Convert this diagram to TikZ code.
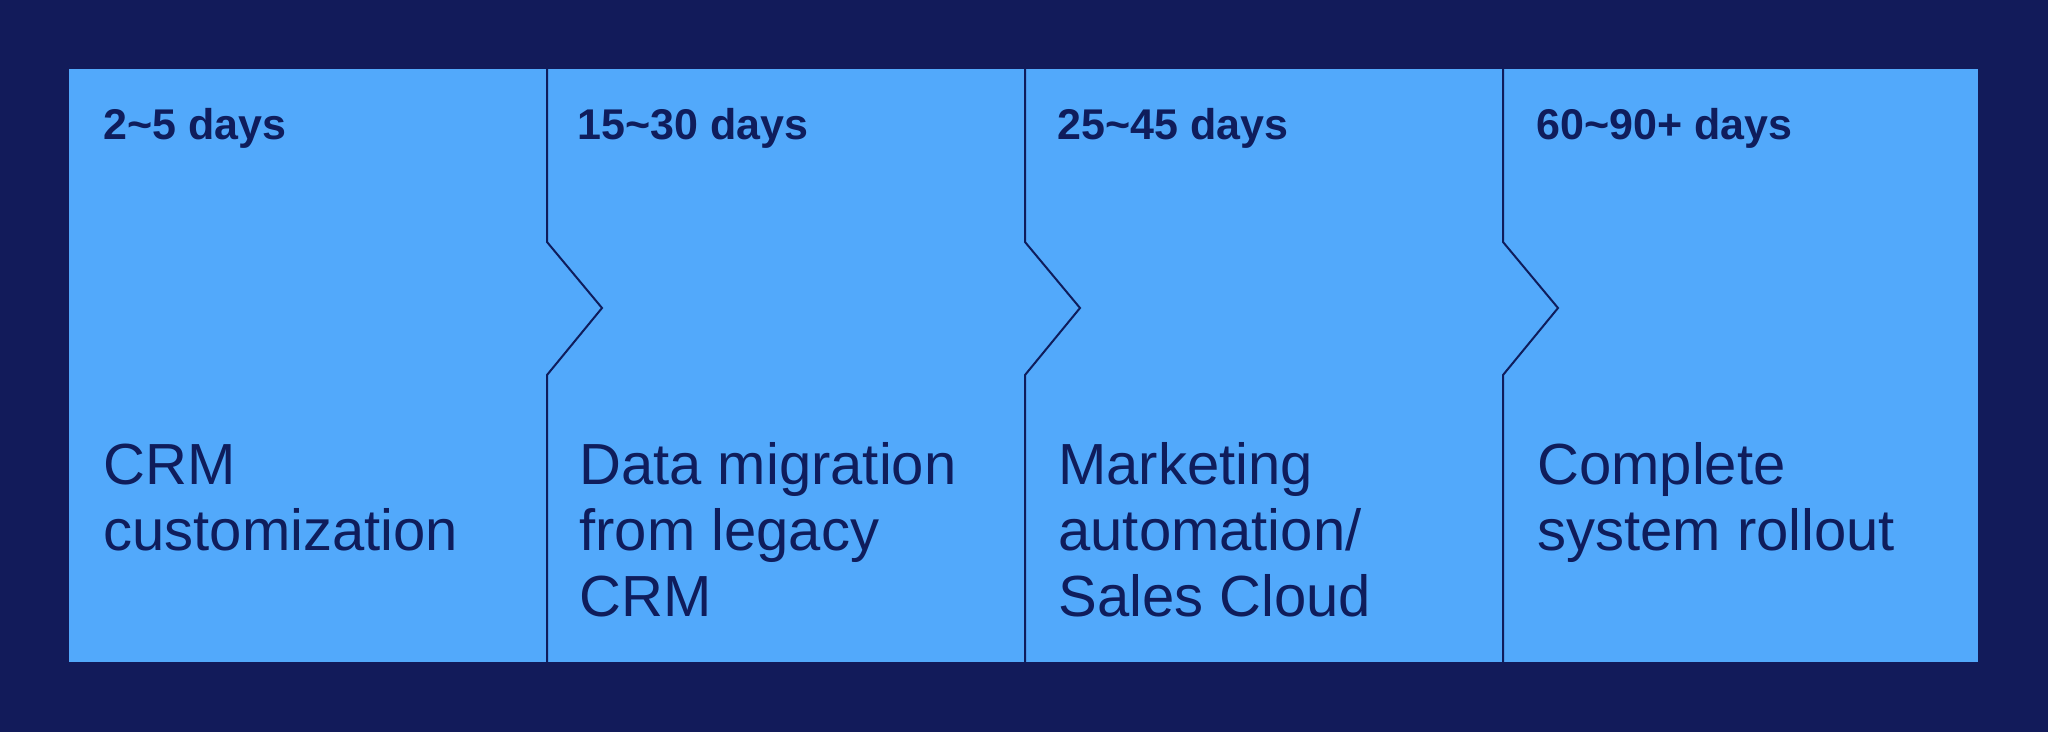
\documentclass[tikz,border=0pt]{standalone}
\usepackage{fontspec}
\setmainfont{Liberation Sans}
\usepackage{tikz}

\definecolor{navybg}{HTML}{121B5A}
\definecolor{panelblue}{HTML}{52A9FB}
\definecolor{inkblue}{HTML}{0F1D5C}

\tikzset{
    days/.style={anchor=base west, inner sep=0pt, text=inkblue,
        font=\fontsize{21.5}{26}\selectfont\bfseries},
    stage/.style={anchor=base west, inner sep=0pt, text=inkblue, align=left,
        font=\fontsize{29}{33}\selectfont},
    divider/.style={draw=inkblue, line width=1pt, line join=miter}
}

\begin{document}
\begin{tikzpicture}[x=0.5pt, y=-0.5pt]

    \fill[navybg] (0,0) rectangle (2048,732);
    \useasboundingbox (0,0) rectangle (2048,732);
    \fill[panelblue] (69,69) rectangle (1978,662);

    % dividers with notch
    \foreach \x in {547, 1025, 1503}
        \draw[divider] (\x,69) -- (\x,242) -- (\x+55,308) -- (\x,375) -- (\x,662);

    \node[days] (d1) at (103,140)  {2\char`~5 days};
    \node[days] (d2) at (577,140)  {15\char`~30 days};
    \node[days] (d3) at (1057,140) {25\char`~45 days};
    \node[days] (d4) at (1536,140) {60\char`~90+ days};

    % base anchor sits on the last line
    \node[stage] (s1) at (103,550)  {CRM\\customization};
    \node[stage] (s2) at (579,616)  {Data migration\\from legacy\\CRM};
    \node[stage] (s3) at (1058,616) {Marketing\\automation/\\Sales Cloud};
    \node[stage] (s4) at (1537,550) {Complete\\system rollout};

\end{tikzpicture}
\end{document}
